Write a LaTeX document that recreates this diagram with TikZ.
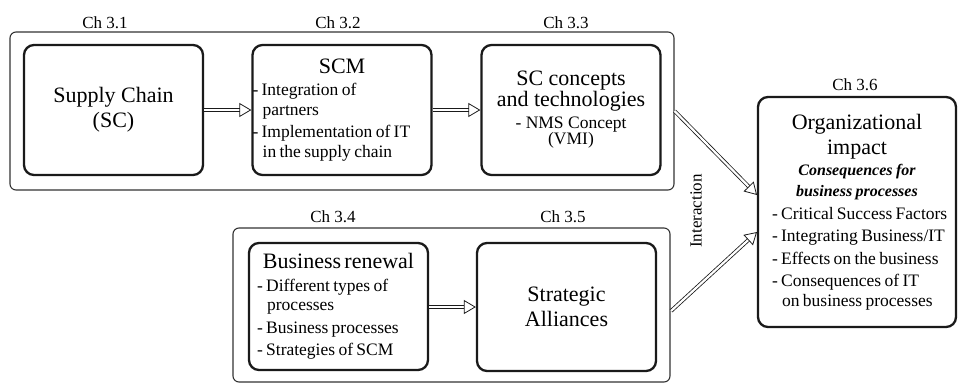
\documentclass[tikz,border=0pt]{standalone}
\usepackage{fontspec}
\setmainfont{LiberationSerif}[Extension=.ttf, UprightFont=*-Regular, BoldFont=*-Bold,
  ItalicFont=*-Italic, BoldItalicFont=*-BoldItalic]
\usepackage{tikz}
\usetikzlibrary{arrows.meta, positioning}
\definecolor{boxline}{HTML}{1A1A1A}
\definecolor{grpline}{HTML}{333333}
\newcommand{\ttlfont}{\fontsize{22}{25}\selectfont}
\newcommand{\itmfont}{\fontsize{17.5}{19.5}\selectfont}
\newcommand{\chfont}{\fontsize{17}{19}\selectfont}
\newcommand{\itm}[1]{\par\vspace{3pt}\hangindent=0.58em\hangafter=1 -~#1\par}
\tikzset{
  chapbox/.style = {rectangle, rounded corners=10pt, draw=boxline, line width=2.3pt,
                    inner sep=0pt, minimum height=130pt, minimum width=179pt},
  grpbox/.style  = {rectangle, rounded corners=6pt, draw=grpline, line width=1.1pt,
                    inner sep=0pt},
  chlbl/.style   = {font=\chfont, inner sep=1pt},
  dflow/.style   = {draw=boxline, double, double distance=2.2pt, line width=0.8pt,
                    -{Triangle[open, length=12pt, width=14pt, line width=0.8pt]}},
}
\begin{document}
\begin{tikzpicture}[x=1pt, y=-1pt]
  \useasboundingbox (0,0) rectangle (958,383);
  % groups
  \node[grpbox, minimum width=664pt, minimum height=158pt] (topgrp) at (342,111) {};
  \node[grpbox, minimum width=437pt, minimum height=154pt] (botgrp) at (451.5,305) {};
  % chapters
  \node[chapbox, font=\ttlfont, align=center] (sc) at (113.5,110) {Supply Chain\\(SC)};
  \node[chapbox, text width=179pt] (scm) at (342,110)
    {{\centering\ttlfont SCM\par}\itmfont\raggedright
     \itm{Integration of\newline partners}\itm{Implementation of IT\newline in the supply chain}};
  \node[chapbox, align=center] (conc) at (571,110)
    {\ttlfont SC concepts\\\ttlfont and technologies\\[4pt]\itmfont - NMS Concept\\\itmfont (VMI)};
  \node[chapbox, minimum height=127pt, text width=179pt] (renew) at (338.5,306.5)
    {{\centering\ttlfont Business renewal\par}\itmfont\raggedright\leftskip=8pt
     \itm{Different types of\newline processes}\itm{Business processes}\itm{Strategies of SCM}};
  \node[chapbox, minimum height=128pt, font=\ttlfont, align=center] (alli) at (566.5,307)
    {Strategic\\Alliances};
  \node[chapbox, minimum width=198pt, minimum height=230pt, text width=198pt] (org) at (857,212)
    {{\centering\ttlfont Organizational\\impact\par}
     {\centering\fontsize{16}{21}\selectfont\bfseries\itshape Consequences for\\business processes\par}
     \itmfont\raggedright\leftskip=14pt
     \itm{Critical Success Factors}\itm{Integrating Business/IT}\itm{Effects on the business}
     \itm{Consequences of IT\newline on business processes}};
  % chapter labels
  \foreach \nm/\px/\py in {3.1/105/23, 3.2/338/23, 3.3/566/23, 3.4/333/217, 3.5/563/217, 3.6/855/85}
    \node[chlbl] (ch\nm) at (\px,\py) {Ch \nm};
  \node[rotate=90, font=\chfont] (inter) at (696,211) {Interaction};
  % flows
  \coordinate (orgin1) at (757,195);
  \coordinate (orgin2) at (757,232);
  \coordinate (botout) at (671,311);
  \draw[dflow] (sc) -- (scm);
  \draw[dflow] (scm) -- (conc);
  \draw[dflow] (renew.east |- alli.west) -- (alli);
  \draw[dflow] (topgrp.east) -- (orgin1);
  \draw[dflow] (botout) -- (orgin2);
\end{tikzpicture}
\end{document}
